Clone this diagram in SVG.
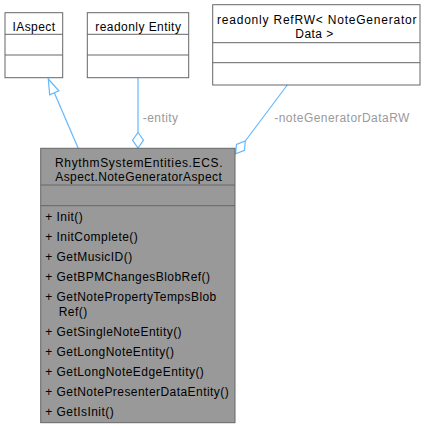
<svg xmlns="http://www.w3.org/2000/svg" width="425" height="428" viewBox="0 0 425 428">
<style>
text{font-family:"Liberation Sans",Arial,Helvetica,sans-serif;font-size:12px;letter-spacing:0.45px;fill:#000}
.c{text-anchor:middle}
.box{fill:#fff;stroke:#666;stroke-width:1}
.main{fill:#999;stroke:#666;stroke-width:1}
.sep{stroke:#666;stroke-width:1;fill:none}
.edge{stroke:#63b8ff;stroke-width:1.2;fill:none}
.head{fill:#fff;stroke:#63b8ff;stroke-width:1.2}
.lbl{fill:#9a9a9a}
</style>
<rect width="425" height="428" fill="#fff"/>
<g id="connectors">
  <g id="edge-iaspect">
    <path class="edge" d="M78.3,148.5 L54.3,92.8"/>
    <polygon class="head" points="48.3,79 58.9,90.8 49.7,94.8"/>
  </g>
  <g id="edge-entity">
    <path class="edge" d="M138,78 L138,132.5"/>
    <polygon class="head" points="138,132.5 143.5,140.2 138,148 132.5,140.2"/>
    <text class="lbl" x="142.7" y="121.7">-entity</text>
  </g>
  <g id="edge-refrw">
    <path class="edge" d="M287.3,85 L245.3,141"/>
    <polygon class="head" points="245.3,141 244.5,150.4 235.6,153.8 236.5,144.4"/>
    <text class="lbl" x="274.3" y="121.7">-noteGeneratorDataRW</text>
  </g>
</g>
<g id="node-iaspect">
  <rect class="box" x="5" y="12.7" width="57.7" height="65"/>
  <path class="sep" d="M5,34.3 H62.7 M5,55 H62.7"/>
  <text class="c" x="34" y="31">IAspect</text>
</g>
<g id="node-entity">
  <rect class="box" x="87.3" y="12.7" width="101.4" height="65"/>
  <path class="sep" d="M87.3,34.3 H188.7 M87.3,55 H188.7"/>
  <text class="c" x="138.3" y="31">readonly Entity</text>
</g>
<g id="node-refrw">
  <rect class="box" x="212.7" y="4.7" width="207.3" height="80.3"/>
  <path class="sep" d="M212.7,42.7 H420 M212.7,62.7 H420"/>
  <text class="c" x="317" y="24" textLength="200" lengthAdjust="spacing">readonly RefRW&lt; NoteGenerator</text>
  <text class="c" x="314.5" y="37.5">Data &gt;</text>
</g>
<g id="node-main">
  <rect class="main" x="40.7" y="148.3" width="194.3" height="274.4"/>
  <path class="sep" d="M40.7,185 H235 M40.7,205.7 H235"/>
  <text class="c" x="139" y="166.5" textLength="168" lengthAdjust="spacing">RhythmSystemEntities.ECS.</text>
  <text class="c" x="138.7" y="180.7" textLength="167" lengthAdjust="spacing">Aspect.NoteGeneratorAspect</text>
  <text x="45.3" y="221">+ Init()</text>
  <text x="45.3" y="241">+ InitComplete()</text>
  <text x="45.3" y="261">+ GetMusicID()</text>
  <text x="45.3" y="281">+ GetBPMChangesBlobRef()</text>
  <text x="45.3" y="301">+ GetNotePropertyTempsBlob</text>
  <text x="58.7" y="315.5">Ref()</text>
  <text x="45.3" y="336">+ GetSingleNoteEntity()</text>
  <text x="45.3" y="356">+ GetLongNoteEntity()</text>
  <text x="45.3" y="376">+ GetLongNoteEdgeEntity()</text>
  <text x="45.3" y="396">+ GetNotePresenterDataEntity()</text>
  <text x="45.3" y="416">+ GetIsInit()</text>
</g>
</svg>
